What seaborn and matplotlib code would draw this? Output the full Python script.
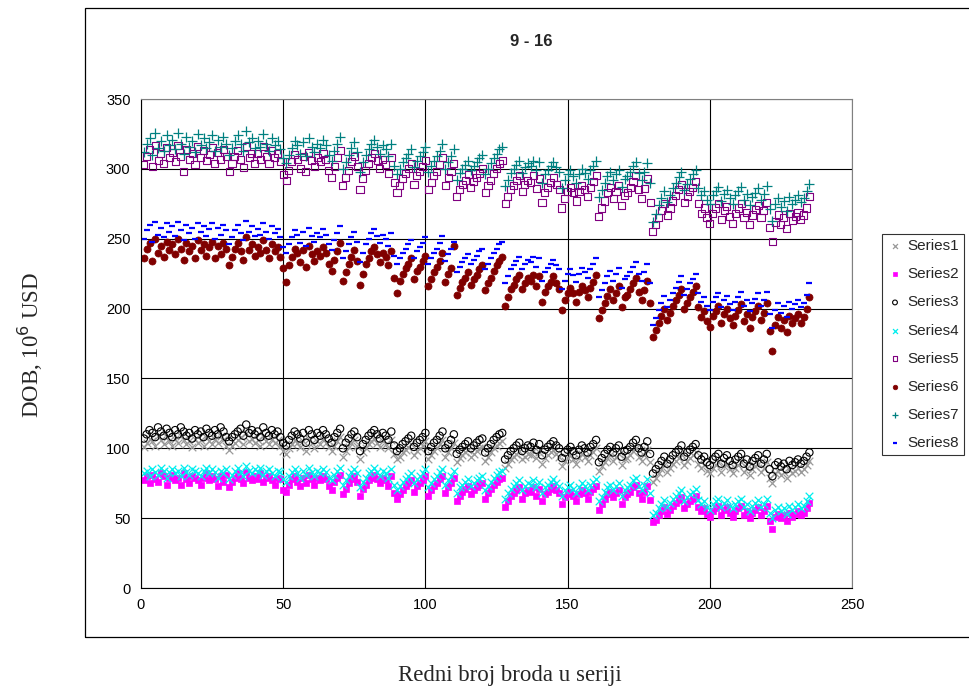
import seaborn as sns
import matplotlib.pyplot as plt
import numpy as np
from matplotlib.patches import Rectangle

# ship index in the series
ship_no = list(range(1, 236))

series1 = [
    101, 104, 107, 105, 102, 109, 106, 103, 108, 105,
    102, 107, 104, 109, 106, 103, 105, 101, 107, 104,
    106, 102, 108, 105, 103, 107, 104, 109, 106, 102,
    99, 102, 104, 106, 108, 103, 111, 105, 107, 104,
    106, 102, 109, 105, 103, 107, 104, 106, 102, 98,
    96, 100, 103, 106, 104, 101, 105, 98, 107, 104,
    100, 105, 103, 107, 104, 101, 98, 102, 105, 108,
    94, 98, 101, 104, 106, 102, 92, 97, 100, 103,
    105, 107, 104, 101, 105, 103, 100, 106, 96, 92,
    94, 97, 99, 101, 103, 95, 98, 100, 102, 105,
    92, 95, 98, 100, 103, 106, 94, 97, 100, 104,
    90, 93, 95, 97, 99, 94, 96, 98, 100, 101,
    91, 94, 97, 100, 102, 104, 105, 86, 89, 92,
    94, 96, 98, 92, 94, 96, 95, 98, 93, 97,
    89, 93, 95, 97, 99, 96, 94, 87, 91, 93,
    95, 92, 89, 93, 96, 94, 91, 95, 97, 100,
    84, 87, 90, 93, 95, 91, 94, 96, 88, 92,
    93, 95, 98, 100, 94, 91, 95, 99, 90, 76,
    79, 82, 85, 88, 83, 86, 89, 91, 93, 96,
    88, 91, 93, 95, 97, 89, 86, 88, 84, 82,
    86, 88, 90, 83, 87, 89, 85, 82, 86, 88,
    90, 83, 86, 81, 85, 87, 89, 83, 86, 90,
    79, 75, 82, 84, 81, 83, 79, 85, 82, 84,
    86, 83, 85, 88, 91,
]

series2 = [
    77, 80, 75, 81, 78, 76, 82, 80, 74, 79,
    81, 77, 79, 74, 82, 78, 75, 80, 79, 77,
    74, 79, 82, 77, 80, 78, 73, 80, 76, 81,
    72, 76, 79, 82, 78, 75, 83, 79, 77, 80,
    78, 82, 76, 79, 80, 77, 74, 79, 78, 70,
    69, 74, 78, 80, 76, 73, 79, 75, 81, 78,
    74, 79, 77, 80, 78, 73, 70, 76, 79, 81,
    67, 71, 75, 78, 80, 76, 66, 71, 74, 77,
    79, 81, 78, 75, 79, 77, 73, 80, 68, 64,
    67, 70, 73, 75, 77, 69, 73, 75, 77, 80,
    66, 70, 73, 75, 78, 80, 68, 72, 75, 79,
    62, 66, 69, 71, 73, 67, 70, 72, 74, 75,
    64, 68, 71, 74, 76, 78, 79, 58, 62, 66,
    68, 70, 72, 64, 68, 70, 69, 72, 66, 71,
    62, 67, 69, 71, 73, 70, 68, 60, 65, 67,
    69, 66, 62, 67, 70, 68, 64, 69, 71, 73,
    56, 60, 64, 67, 69, 65, 68, 70, 60, 65,
    67, 69, 72, 74, 68, 64, 69, 73, 63, 47,
    49, 52, 55, 58, 53, 56, 59, 61, 63, 65,
    57, 60, 62, 64, 66, 58, 55, 57, 53, 51,
    55, 57, 59, 52, 56, 58, 54, 51, 55, 57,
    59, 52, 55, 50, 54, 56, 58, 52, 55, 59,
    48, 42, 51, 53, 50, 52, 48, 54, 51, 53,
    55, 52, 54, 57, 61,
]

series3 = [
    107, 110, 113, 111, 108, 115, 112, 109, 114, 111,
    108, 113, 110, 115, 112, 109, 111, 107, 113, 110,
    112, 108, 114, 111, 109, 113, 110, 115, 112, 108,
    105, 108, 110, 112, 114, 109, 117, 111, 113, 110,
    112, 108, 115, 111, 109, 113, 110, 112, 108, 104,
    102, 106, 109, 112, 110, 107, 111, 104, 113, 110,
    106, 111, 109, 113, 110, 107, 104, 108, 111, 114,
    100, 104, 107, 110, 112, 108, 98, 103, 106, 109,
    111, 113, 110, 107, 111, 109, 106, 112, 102, 98,
    100, 103, 105, 107, 109, 101, 104, 106, 108, 111,
    98, 101, 104, 106, 109, 112, 100, 103, 106, 110,
    96, 99, 101, 103, 105, 100, 102, 104, 106, 107,
    97, 100, 103, 106, 108, 110, 111, 92, 95, 98,
    100, 102, 104, 98, 100, 102, 101, 104, 99, 103,
    95, 99, 101, 103, 105, 102, 100, 93, 97, 99,
    101, 98, 95, 99, 102, 100, 97, 101, 103, 106,
    90, 93, 96, 99, 101, 97, 100, 102, 94, 98,
    99, 101, 104, 106, 100, 97, 101, 105, 96, 82,
    85, 88, 91, 94, 89, 92, 95, 97, 99, 102,
    94, 97, 99, 101, 103, 95, 92, 94, 90, 88,
    92, 94, 96, 89, 93, 95, 91, 88, 92, 94,
    96, 89, 92, 87, 91, 93, 95, 89, 92, 96,
    85, 80, 88, 90, 87, 89, 85, 91, 88, 90,
    92, 89, 91, 94, 97,
]

series4 = [
    82, 84, 80, 85, 83, 81, 86, 84, 79, 83,
    85, 82, 84, 80, 86, 83, 81, 85, 84, 82,
    80, 84, 86, 82, 85, 83, 79, 84, 82, 85,
    78, 81, 84, 86, 83, 80, 87, 84, 82, 85,
    83, 86, 81, 84, 85, 82, 80, 84, 83, 78,
    76, 80, 83, 85, 82, 79, 84, 81, 86, 83,
    80, 84, 82, 85, 83, 79, 77, 81, 84, 86,
    74, 77, 80, 83, 85, 82, 72, 76, 79, 82,
    84, 86, 83, 80, 84, 82, 79, 85, 74, 70,
    73, 76, 78, 80, 82, 75, 78, 80, 82, 85,
    72, 75, 78, 80, 83, 85, 74, 77, 80, 84,
    68, 72, 74, 76, 78, 73, 75, 77, 79, 80,
    70, 73, 76, 79, 81, 83, 84, 64, 68, 71,
    73, 75, 77, 70, 73, 75, 74, 77, 72, 76,
    68, 72, 74, 76, 78, 75, 73, 66, 70, 72,
    74, 71, 68, 72, 75, 73, 70, 74, 76, 78,
    62, 65, 69, 72, 74, 70, 73, 75, 66, 70,
    72, 74, 77, 79, 73, 70, 74, 78, 68, 52,
    54, 57, 60, 63, 58, 61, 64, 66, 68, 70,
    62, 65, 67, 69, 71, 63, 60, 62, 58, 56,
    60, 62, 64, 58, 61, 63, 59, 57, 60, 62,
    64, 58, 60, 55, 59, 61, 63, 58, 60, 64,
    54, 50, 56, 58, 55, 57, 53, 59, 56, 58,
    60, 57, 59, 62, 66,
]

series5 = [
    303, 309, 314, 302, 317, 306, 311, 304, 315, 308,
    312, 305, 317, 309, 298, 314, 307, 311, 303, 316,
    308, 313, 306, 310, 315, 304, 312, 307, 314, 309,
    298, 304, 309, 313, 307, 301, 316, 308, 311, 304,
    311, 307, 316, 309, 304, 313, 308, 311, 305, 296,
    292, 299, 305, 310, 307, 300, 309, 298, 312, 306,
    302, 308, 305, 311, 307, 299, 294, 302, 308, 313,
    288, 294, 299, 305, 309, 302, 285, 293, 299, 304,
    308, 311, 306, 300, 307, 303, 297, 308, 290, 283,
    288, 293, 297, 300, 304, 289, 295, 298, 302, 306,
    285, 290, 295, 298, 303, 308, 288, 294, 298, 304,
    280, 285, 289, 292, 296, 287, 291, 294, 297, 300,
    283, 288, 292, 297, 300, 304, 306, 275, 280, 285,
    288, 292, 295, 284, 289, 292, 290, 295, 286, 293,
    276, 283, 287, 290, 294, 289, 285, 272, 279, 284,
    287, 283, 277, 284, 288, 285, 280, 287, 291, 295,
    266, 272, 277, 283, 287, 279, 284, 288, 274, 281,
    283, 287, 291, 295, 285, 279, 286, 293, 276, 255,
    260, 265, 270, 275, 267, 272, 277, 281, 285, 289,
    276, 280, 284, 287, 291, 275, 268, 272, 265, 261,
    268, 272, 275, 264, 270, 273, 266, 261, 268, 272,
    275, 265, 269, 260, 267, 271, 274, 265, 270, 276,
    258, 248, 262, 267, 260, 265, 257, 268, 263, 266,
    269, 264, 267, 272, 280,
]

series6 = [
    236, 243, 247, 234, 250, 240, 245, 237, 248, 242,
    246, 239, 250, 243, 235, 247, 241, 245, 236, 249,
    242, 246, 238, 244, 248, 236, 245, 239, 247, 243,
    231, 237, 243, 247, 241, 235, 251, 242, 246, 238,
    244, 240, 249, 242, 236, 246, 241, 244, 237, 229,
    219, 231, 237, 243, 240, 233, 242, 230, 245, 239,
    234, 241, 238, 244, 240, 232, 227, 235, 241, 247,
    220, 226, 232, 237, 242, 234, 217, 225, 232, 236,
    241, 244, 239, 233, 240, 237, 231, 241, 222, 211,
    220, 225, 229, 232, 236, 221, 227, 230, 234, 238,
    216, 221, 226, 230, 234, 240, 219, 225, 229, 245,
    210, 215, 219, 222, 226, 217, 221, 224, 228, 231,
    213, 218, 222, 227, 231, 234, 237, 202, 208, 214,
    217, 221, 224, 214, 218, 222, 220, 224, 216, 223,
    205, 212, 216, 219, 223, 218, 214, 199, 206, 211,
    215, 211, 205, 212, 216, 213, 208, 215, 219, 224,
    193, 199, 204, 209, 214, 206, 211, 216, 201, 208,
    210, 214, 218, 222, 212, 206, 213, 220, 204, 180,
    185, 190, 195, 200, 192, 197, 202, 206, 210, 214,
    200, 204, 208, 212, 216, 201, 194, 198, 191, 187,
    195, 198, 202, 190, 196, 200, 193, 188, 195, 199,
    203, 191, 196, 186, 194, 198, 202, 192, 197, 204,
    184, 170, 188, 194, 186, 192, 183, 195, 190, 193,
    196, 190, 194, 200, 208,
]

series7 = [
    312, 318, 322, 310, 326, 315, 320, 313, 324, 317,
    321, 314, 326, 318, 311, 323, 316, 320, 312, 325,
    317, 322, 315, 319, 324, 313, 321, 316, 323, 318,
    310, 315, 320, 324, 318, 313, 327, 319, 322, 315,
    320, 316, 325, 318, 313, 322, 317, 320, 314, 308,
    304, 310, 315, 320, 317, 311, 319, 309, 322, 316,
    312, 318, 315, 321, 317, 310, 306, 313, 318, 323,
    300, 305, 310, 315, 319, 312, 298, 305, 310, 314,
    318, 321, 316, 311, 317, 314, 309, 318, 302, 296,
    300, 305, 308, 311, 314, 301, 306, 309, 312, 316,
    298, 302, 306, 309, 313, 318, 300, 305, 309, 314,
    292, 297, 300, 303, 306, 299, 302, 305, 308, 310,
    296, 300, 304, 308, 311, 314, 316, 288, 292, 297,
    300, 303, 306, 297, 301, 304, 302, 306, 299, 305,
    290, 296, 299, 302, 305, 301, 298, 286, 292, 296,
    299, 295, 290, 296, 300, 297, 293, 299, 302, 306,
    280, 285, 290, 295, 298, 292, 296, 299, 287, 293,
    295, 298, 302, 305, 297, 292, 298, 304, 290, 262,
    268, 274, 279, 284, 276, 281, 286, 290, 294, 298,
    285, 289, 293, 296, 299, 286, 281, 284, 278, 275,
    281, 284, 287, 277, 282, 285, 279, 275, 281, 284,
    287, 278, 282, 274, 280, 283, 286, 278, 282, 288,
    271, 263, 275, 279, 273, 277, 270, 280, 275, 278,
    281, 276, 279, 284, 289,
]

series8 = [
    250, 256, 260, 248, 262, 253, 258, 251, 261, 255,
    259, 252, 262, 256, 249, 260, 254, 258, 250, 261,
    255, 259, 252, 257, 261, 250, 258, 253, 260, 256,
    246, 251, 256, 260, 254, 249, 263, 255, 259, 252,
    257, 253, 261, 255, 250, 259, 254, 257, 251, 244,
    240, 246, 251, 256, 253, 247, 255, 245, 258, 252,
    248, 254, 251, 257, 253, 246, 242, 249, 254, 259,
    236, 241, 246, 251, 255, 248, 233, 240, 246, 250,
    254, 257, 252, 247, 253, 250, 245, 254, 238, 232,
    236, 240, 243, 246, 249, 236, 241, 244, 247, 251,
    232, 236, 240, 243, 247, 252, 234, 239, 243, 248,
    226, 230, 233, 236, 239, 232, 235, 238, 241, 243,
    228, 232, 236, 240, 243, 246, 248, 218, 223, 228,
    231, 234, 237, 228, 232, 235, 233, 237, 230, 236,
    220, 226, 229, 232, 235, 231, 228, 214, 220, 225,
    228, 224, 219, 225, 229, 226, 222, 228, 232, 236,
    208, 213, 218, 223, 227, 220, 225, 229, 215, 221,
    223, 226, 230, 233, 225, 220, 226, 232, 218, 188,
    193, 199, 204, 209, 201, 206, 211, 215, 219, 223,
    210, 214, 218, 221, 225, 211, 205, 208, 202, 199,
    205, 208, 211, 201, 206, 209, 203, 199, 205, 208,
    212, 202, 206, 198, 204, 207, 211, 202, 206, 212,
    196, 186, 199, 204, 197, 202, 194, 205, 200, 203,
    206, 201, 204, 210, 218,
]

sns.set_style("white")
plt.rcParams['font.family'] = ['Liberation Sans', 'DejaVu Sans']

fig = plt.figure(figsize=(9.69, 6.93), dpi=100)
ax = fig.add_axes([0.1455, 0.1515, 0.7338, 0.7056])

# outer chart frame (runs off the right edge like in the original)
fig.patches.append(Rectangle((85 / 969, 1 - 637 / 693), 0.95, (637 - 8) / 693,
                             transform=fig.transFigure, fill=False,
                             edgecolor="black", linewidth=0.9))

# (values, label, marker, color, size, open marker?)
styles = [
    (series1, "Series1", "x", "#999999", 30, False),
    (series2, "Series2", "s", "#ff00ff", 20, False),
    (series3, "Series3", "o", "black", 28, True),
    (series4, "Series4", "x", "#00eeee", 30, False),
    (series5, "Series5", "s", "#800080", 26, True),
    (series6, "Series6", "o", "#800000", 26, False),
    (series7, "Series7", "+", "#008080", 42, False),
    (series8, "Series8", "_", "#0000ff", 18, False),
]

for vals, lab, mk, c, s, hollow in styles:
    if hollow:
        sns.scatterplot(x=ship_no, y=vals, marker=mk, color=c, facecolor="none",
                        edgecolor=c, s=s, linewidth=0.8, label=lab, ax=ax)
    elif mk == "_":
        sns.scatterplot(x=ship_no, y=vals, marker=mk, color=c, edgecolor=c,
                        s=s, linewidth=1.6, label=lab, ax=ax)
    elif mk in ("x", "+"):
        sns.scatterplot(x=ship_no, y=vals, marker=mk, color=c, edgecolor=c,
                        s=s, linewidth=0.9, label=lab, ax=ax)
    else:
        sns.scatterplot(x=ship_no, y=vals, marker=mk, color=c, edgecolor=c,
                        s=s, linewidth=0.5, label=lab, ax=ax)

ax.set_xlim(0, 250)
ax.set_ylim(0, 350)
ax.set_xticks(np.arange(0, 251, 50))
ax.set_yticks(np.arange(0, 351, 50))
ax.grid(True, color="black", linewidth=0.8)
ax.set_axisbelow(True)
ax.tick_params(direction="out", length=4, width=0.8, labelsize=10.5, colors="black")
for side in ["top", "right"]:
    ax.spines[side].set_color("#808080")
for side in ["left", "bottom"]:
    ax.spines[side].set_color("black")
ax.set_xlabel("")
ax.set_ylabel("")

handles, labels = ax.get_legend_handles_labels()
if ax.legend_:
    ax.legend_.remove()
leg = fig.legend(handles, labels, loc="upper left",
                 bbox_to_anchor=(882 / 969, 1 - 234 / 693), borderaxespad=0,
                 fontsize=11, markerscale=0.65, labelspacing=0.92,
                 handletextpad=0.3, handlelength=1.0, borderpad=0.35,
                 fancybox=False, frameon=True)
leg.get_frame().set_edgecolor("black")
leg.get_frame().set_linewidth(0.8)

fig.text(531 / 969, 1 - 42 / 693, "9 - 16", ha="center", va="center",
         fontsize=12, fontweight="bold")
fig.text(30 / 969, 1 - 345 / 693, "DOB, 10$^6$ USD", rotation=90,
         ha="center", va="center", fontsize=16.5, family="Liberation Serif")
fig.text(510 / 969, 1 - 675 / 693, "Redni broj broda u seriji",
         ha="center", va="center", fontsize=16.5, family="Liberation Serif")

fig.savefig("out.png", dpi=100)
